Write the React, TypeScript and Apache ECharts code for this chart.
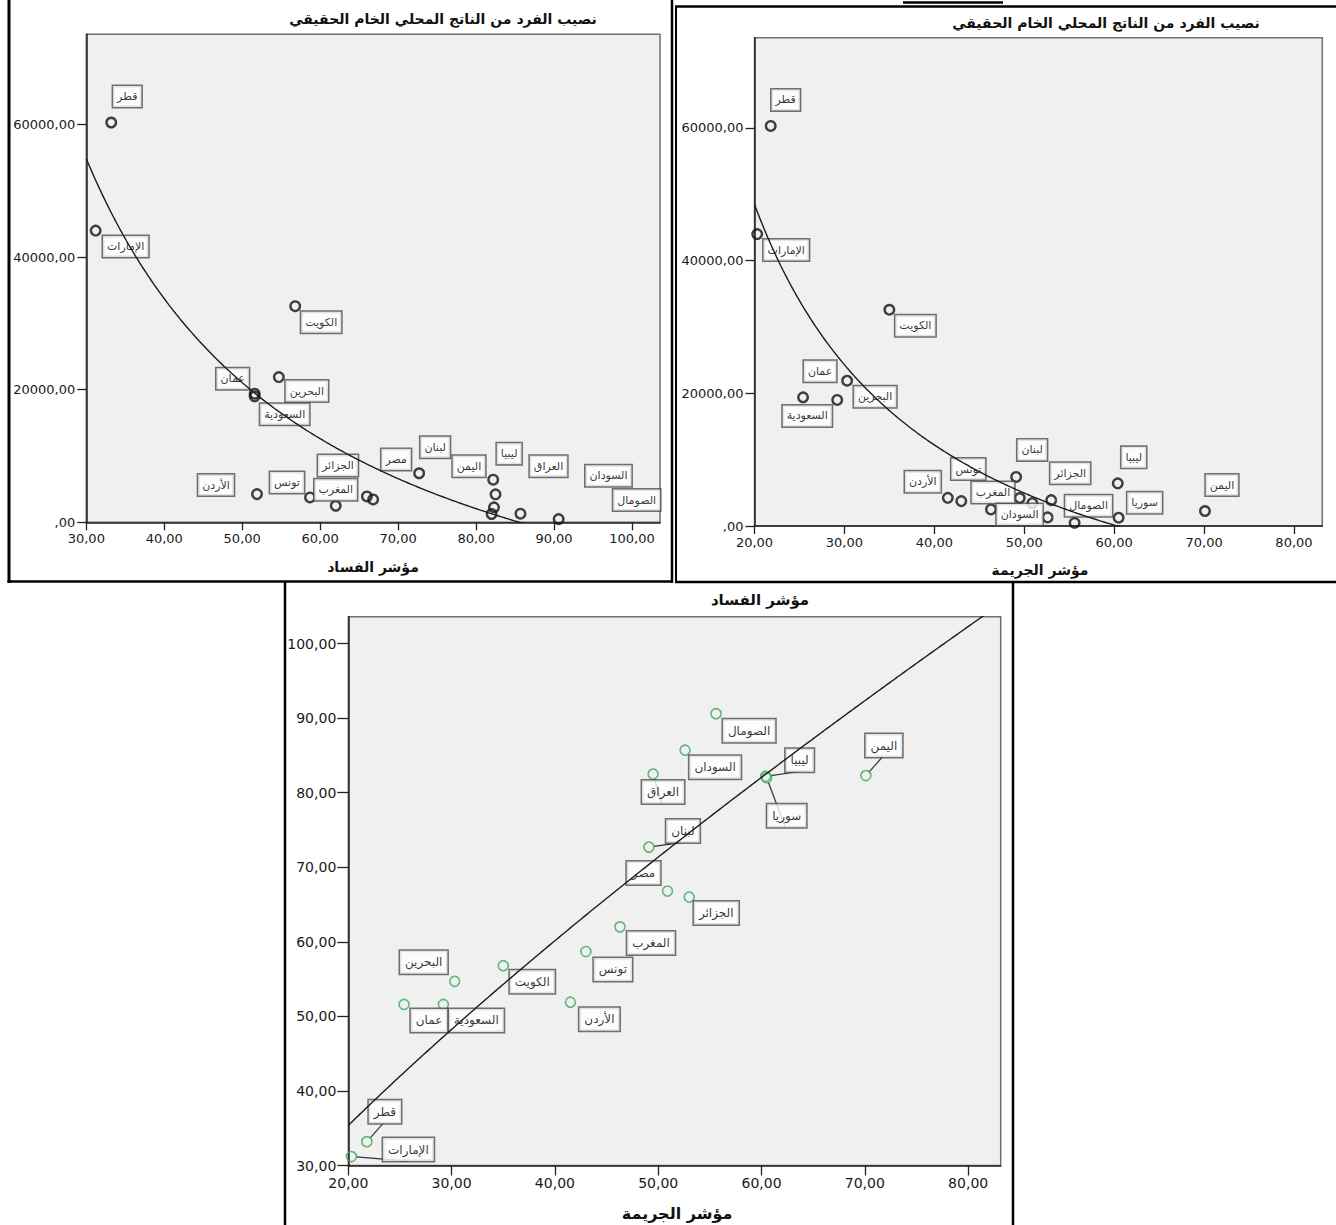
import React, { useEffect, useRef } from "react";
import * as echarts from "echarts";

// ---------------- data ----------------
const countries = [
  "قطر", "الإمارات", "الكويت", "البحرين", "عمان", "السعودية",
  "الأردن", "تونس", "المغرب", "الجزائر", "مصر", "لبنان",
  "ليبيا", "العراق", "اليمن", "سوريا", "السودان", "الصومال",
];
const crimeIndex = [21.8, 20.3, 35.0, 30.3, 25.4, 29.2, 41.5, 43.0, 46.3, 53.0, 50.9, 49.1, 60.4, 49.5, 70.1, 60.5, 52.6, 55.6];
const corruptionIndex = [33.2, 31.2, 56.8, 54.7, 51.6, 51.6, 51.9, 58.7, 62.0, 66.0, 66.8, 72.7, 82.2, 82.5, 82.3, 82.0, 85.7, 90.6];
const gdpPerCapita = [60300, 44000, 32600, 21900, 19400, 19000, 4250, 3750, 2500, 3900, 3450, 7400, 6430, 4220, 2260, 1250, 1300, 480];

const gdpTicks = [0, 20000, 40000, 60000];
const corruptionTicks = [30, 40, 50, 60, 70, 80, 90, 100];
const crimeTicks = [20, 30, 40, 50, 60, 70, 80];

const gdpTitle = "نصيب الفرد من الناتج المحلي الخام الحقيقي";
const corruptionTitle = "مؤشر الفساد";
const crimeTitle = "مؤشر الجريمة";

// ---------------- label placement (pixels, relative to point) ----------------
const labelOffsets1: Record<string, [number, number]> = {
  "قطر": [16, -26], "الإمارات": [30, 16], "الكويت": [26, 16], "البحرين": [28, 14],
  "عمان": [-22, -15], "السعودية": [30, 18], "الأردن": [-41, -9], "تونس": [-23, -15],
  "المغرب": [0, -16], "الجزائر": [-29, -31], "مصر": [23, -40], "لبنان": [16, -26],
  "اليمن": [-25, -41], "ليبيا": [16, -26], "العراق": [53, -28], "السودان": [88, -38],
  "الصومال": [78, -19],
};
const labelOffsets2: Record<string, [number, number]> = {
  "قطر": [15, -26], "الإمارات": [29, 16], "الكويت": [26, 16], "عمان": [17, -26],
  "البحرين": [28, 16], "السعودية": [-30, 16], "لبنان": [16, -27], "ليبيا": [16, -26],
  "تونس": [7, -32], "الأردن": [-25, -16], "الجزائر": [19, -27], "المغرب": [2, -17],
  "السودان": [-28, -3], "الصومال": [14, -17], "سوريا": [26, -15], "اليمن": [17, -26],
};
const labelOffsets3: Record<string, [number, number]> = {
  "قطر": [18, -30], "الإمارات": [57, -7], "عمان": [25, 16], "السعودية": [33, 16],
  "البحرين": [-31, -19], "الكويت": [29, 16], "الأردن": [29, 17], "تونس": [27, 18],
  "المغرب": [31, 16], "الجزائر": [27, 16], "مصر": [-24, -18], "لبنان": [34, -16],
  "العراق": [10, 18], "السودان": [30, 17], "الصومال": [33, 17], "ليبيا": [34, -16],
  "سوريا": [20, 38], "اليمن": [18, -30],
};
const leaderLines3 = ["قطر", "الإمارات", "لبنان", "العراق", "ليبيا", "سوريا", "اليمن"];

// ---------------- fits (least squares on the data) ----------------
function linReg(xs: number[], ys: number[]) {
  const n = xs.length;
  const mx = xs.reduce((s, v) => s + v, 0) / n;
  const my = ys.reduce((s, v) => s + v, 0) / n;
  let sxy = 0, sxx = 0;
  for (let i = 0; i < n; i++) {
    sxy += (xs[i] - mx) * (ys[i] - my);
    sxx += (xs[i] - mx) * (xs[i] - mx);
  }
  const b = sxy / sxx;
  return { a: my - b * mx, b };
}
function fitInverse(xs: number[], ys: number[]) {
  const { a, b } = linReg(xs.map((x) => 1 / x), ys);
  return (x: number) => a + b / x;
}
function fitPower(xs: number[], ys: number[]) {
  const { a, b } = linReg(xs.map(Math.log), ys.map(Math.log));
  const k = Math.exp(a);
  return (x: number) => k * Math.pow(x, b);
}
function sampleCurve(f: (x: number) => number, lo: number, hi: number) {
  const pts: number[][] = [];
  const steps = 300;
  for (let i = 0; i <= steps; i++) {
    const x = lo + ((hi - lo) * i) / steps;
    pts.push([x, f(x)]);
  }
  return pts;
}

const fmt = (v: number) => (v === 0 ? ",00" : v.toFixed(2).replace(".", ","));

const NUM_FONT = "DejaVu Sans";
const AR_FONT = "DejaVu Sans";

function axis(gridIndex: number, min: number, max: number, ticks: number[], fontSize: number, margin: number, tickLen: number) {
  return {
    gridIndex,
    type: "value",
    min,
    max,
    axisLine: { show: true, onZero: false, lineStyle: { color: "#222", width: 1.5 } },
    axisTick: { show: true, length: tickLen, customValues: ticks, lineStyle: { color: "#222", width: 1.3 } },
    axisLabel: {
      customValues: ticks,
      formatter: fmt,
      fontSize,
      fontFamily: NUM_FONT,
      color: "#1a1a1a",
      margin,
    },
    splitLine: { show: false },
  };
}

function scatter(idx: number, xs: number[], ys: number[], offsets: Record<string, [number, number]>, lines: string[], opts: any) {
  const data = countries.map((name, i) => {
    const item: any = { name, value: [xs[i], ys[i]] };
    const off = offsets[name];
    if (!off) item.label = { show: false };
    else {
      item.label = { show: true, offset: off };
      if (lines.includes(name)) item.labelLine = { show: true };
    }
    return item;
  });
  return {
    type: "scatter",
    xAxisIndex: idx,
    yAxisIndex: idx,
    z: 2,
    symbol: "circle",
    symbolSize: opts.size,
    itemStyle: { color: "rgba(0,0,0,0)", borderColor: opts.color, borderWidth: opts.bw },
    label: {
      show: true,
      position: "inside",
      formatter: "{b}",
      color: "#000",
      fontSize: opts.fs,
      lineHeight: opts.lh,
      fontFamily: AR_FONT,
      backgroundColor: "#fff",
      borderColor: "#4d4d4d",
      borderWidth: 1.5,
      padding: opts.pad,
      textBorderWidth: 0,
    },
    labelLine: { show: false, lineStyle: { color: "#333", width: 1.2 } },
    emphasis: { disabled: true },
    data,
  };
}

function fitLine(idx: number, pts: number[][]) {
  return {
    type: "line",
    xAxisIndex: idx,
    yAxisIndex: idx,
    z: 5,
    showSymbol: false,
    symbol: "none",
    clip: true,
    silent: true,
    lineStyle: { color: "#1a1a1a", width: 1.4 },
    data: pts,
  };
}

function txt(text: string, x: number, y: number, size: number) {
  return {
    type: "text",
    x,
    y,
    style: {
      text,
      fill: "#111",
      fontSize: size,
      fontWeight: "bold",
      fontFamily: AR_FONT,
      align: "center",
      verticalAlign: "middle",
      textAlign: "center",
      textVerticalAlign: "middle",
    },
  };
}
function ln(x1: number, y1: number, x2: number, y2: number, w: number) {
  return { type: "line", shape: { x1, y1, x2, y2 }, style: { stroke: "#000", lineWidth: w } };
}

export default function App() {
  const ref = useRef<HTMLDivElement>(null);
  useEffect(() => {
    if (!ref.current) return;
    const chart = echarts.init(ref.current, undefined, { renderer: "svg" });

    const gdpRange = [0, 73600];
    const corrRange = [30, 103.6];
    const crimeRange = [20, 83.15];

    const f1 = fitInverse(corruptionIndex, gdpPerCapita);
    const f2 = fitInverse(crimeIndex, gdpPerCapita);
    const f3 = fitPower(crimeIndex, corruptionIndex);

    const gridStyle = { show: true, backgroundColor: "#f0f0f0", borderColor: "#707070", borderWidth: 1.5 };

    const option: any = {
      animation: false,
      backgroundColor: "#fff",
      grid: [
        { ...gridStyle, left: 86.3, top: 34.3, width: 573.7, height: 488 },
        { ...gridStyle, left: 754.5, top: 37.7, width: 567.8, height: 488.3 },
        { ...gridStyle, left: 348.3, top: 616.7, width: 652.4, height: 548.8 },
      ],
      xAxis: [
        axis(0, corrRange[0], corrRange[1], corruptionTicks, 13, 10, 8),
        axis(1, crimeRange[0], crimeRange[1], crimeTicks, 13, 10, 8),
        axis(2, crimeRange[0], crimeRange[1], crimeTicks, 14, 10, 10),
      ],
      yAxis: [
        axis(0, gdpRange[0], gdpRange[1], gdpTicks, 13, 11, 9),
        axis(1, gdpRange[0], gdpRange[1], gdpTicks, 13, 11, 9),
        axis(2, corrRange[0], corrRange[1], corruptionTicks, 14, 12, 11),
      ],
      series: [
        scatter(0, corruptionIndex, gdpPerCapita, labelOffsets1, [], { size: 9.5, color: "#111", bw: 2.4, fs: 11, lh: 13, pad: [4, 4] }),
        scatter(1, crimeIndex, gdpPerCapita, labelOffsets2, [], { size: 9.5, color: "#111", bw: 2.4, fs: 11, lh: 13, pad: [4, 4] }),
        scatter(2, crimeIndex, corruptionIndex, labelOffsets3, leaderLines3, { size: 10, color: "#3ea85c", bw: 1.6, fs: 12, lh: 14, pad: [4.5, 5] }),
        fitLine(0, sampleCurve(f1, corrRange[0], corrRange[1])),
        fitLine(1, sampleCurve(f2, crimeRange[0], crimeRange[1])),
        fitLine(2, sampleCurve(f3, crimeRange[0], crimeRange[1])),
      ],
      graphic: [
        txt(gdpTitle, 443, 19, 14),
        txt(corruptionTitle, 373, 566.5, 14),
        txt(gdpTitle, 1106, 22.7, 14),
        txt(crimeTitle, 1040, 570, 14),
        txt(corruptionTitle, 760, 600, 15),
        txt(crimeTitle, 677, 1213, 16),
        // panel frames
        ln(9, 0, 9, 583, 3),
        ln(7.5, 581.5, 673, 581.5, 2.5),
        ln(672, 0, 672, 583, 2.5),
        ln(676, 6, 676, 583, 2),
        ln(675, 6.5, 1336, 6.5, 2.5),
        ln(675, 582, 1336, 582, 2.5),
        ln(285, 581, 285, 1225, 2.5),
        ln(1013, 581, 1013, 1225, 2.5),
        ln(903, 2.5, 1003, 2.5, 2.5),
      ],
    };
    chart.setOption(option);
    return () => chart.dispose();
  }, []);
  return (
    <div
      ref={ref}
      style={{ position: "fixed", left: 0, top: 0, width: 1336, height: 1225, background: "#fff" }}
    />
  );
}
